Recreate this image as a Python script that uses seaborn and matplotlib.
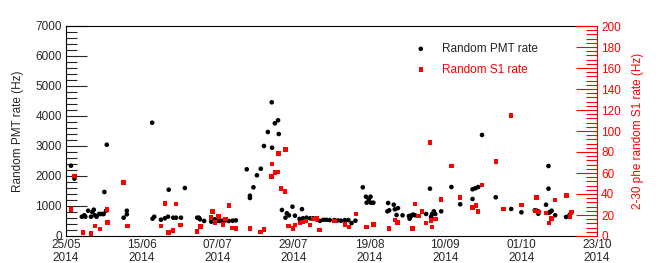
import numpy as np
import pandas as pd
import seaborn as sns
import matplotlib
matplotlib.use("Agg")
import matplotlib.pyplot as plt
import matplotlib.dates as mdates
from matplotlib.ticker import MultipleLocator, FixedLocator

# time axis starts on 25/05/2014 in the morning
start = pd.Timestamp("2014-05-25 07:00")
span_days = 151

# days since axis start and PMT rate (Hz)
pmt_day = [1.4, 2.4, 4.5, 5.2, 5.5, 6.3, 7.1, 7.5, 7.9, 8.2, 8.7, 9.4, 9.8, 10.4, 10.7,
           10.9, 11.4, 11.6, 16.4, 17.3, 17.3, 24.5, 24.6, 25.1, 27.0, 28.1, 29.0, 29.2,
           30.5, 31.3, 32.7, 33.8, 37.3, 37.8, 38.1, 39.3, 41.3, 41.7, 42.3, 43.0, 43.7,
           44.4, 45.3, 46.3, 47.4, 48.3, 51.4, 52.3, 52.3, 53.3, 54.3, 55.4, 56.3, 57.4,
           58.5, 58.6, 59.4, 60.3, 60.5, 61.4, 62.4, 62.8, 63.4, 64.4, 65.1, 66.4, 67.1,
           67.4, 68.4, 69.4, 70.3, 71.3, 72.2, 73.2, 74.1, 75.0, 76.3, 77.3, 78.2, 79.3,
           80.3, 81.2, 82.3, 84.4, 85.3, 86.1, 86.6, 85.5, 86.7, 87.4, 91.4, 91.6, 91.9,
           93.2, 93.5, 94.0, 94.4, 95.7, 97.5, 97.7, 98.0, 98.4, 98.8, 99.3, 102.4, 103.5,
           103.8, 104.1, 104.6, 105.0, 106.7, 109.6, 112.1, 115.6, 115.6, 116.4, 117.2,
           118.3, 122.2, 126.6, 129.5, 133.3, 133.9, 134.3, 134.5, 136.5, 137.2, 137.2,
           137.3, 137.7, 138.1, 139.1, 142.2, 143.2, 143.6]
pmt_rate = [2343, 1910, 643, 690, 643, 843, 643, 800, 877, 690, 643, 733, 733, 733, 733,
            1467, 843, 3043, 610, 843, 723, 3777, 577, 643, 543, 590, 643, 1543,
            610, 610, 610, 1600, 610, 610, 557, 500, 477, 523, 557, 510, 500,
            510, 520, 500, 510, 520, 2223, 1343, 1267, 1623, 2023, 2243, 3000, 3467,
            4457, 2943, 3757, 3857, 3400, 867, 610, 757, 690, 977, 677, 570, 895,
            590, 610, 590, 590, 550, 505, 540, 540, 530, 530, 520, 510, 530,
            530, 430, 510, 1623, 1310, 1220, 1310, 1110, 1110, 1110, 823, 1100, 857,
            1043, 890, 700, 930, 690, 667, 577, 643, 700, 710, 690, 733, 1577,
            643, 733, 823, 733, 823, 1633, 1057, 1557, 1233, 1590, 1633,
            3367, 1290, 900, 790, 857, 843, 743, 810, 1043, 2333, 1577,
            777, 800, 843, 690, 633, 700, 767]

# days since axis start and 2-30 phe S1 rate (Hz)
s1_day = [1.4, 2.4, 4.9, 7.1, 8.2, 9.6, 11.6, 11.8, 16.4, 17.5, 27.1, 28.1, 29.1, 30.4,
          31.3, 32.6, 37.3, 38.2, 41.3, 41.7, 42.3, 43.4, 44.6, 45.4, 46.4, 47.4, 48.3,
          52.4, 55.3, 56.3, 58.4, 58.6, 59.4, 60.3, 60.4, 61.2, 62.3, 62.4, 63.3, 64.5,
          65.2, 66.5, 67.4, 68.3, 69.4, 70.3, 71.3, 72.1, 76.3, 79.4, 80.4, 82.5, 85.4,
          87.4, 91.8, 93.6, 94.3, 98.5, 99.2, 100.2, 101.2, 102.4, 103.5, 103.8, 104.1,
          105.1, 106.7, 109.6, 112.1, 115.6, 116.6, 117.2, 118.3, 122.2, 124.4, 126.6,
          129.5, 133.3, 133.8, 134.4, 136.5, 137.4, 138.1, 139.1, 142.3, 143.3, 143.7]
s1_rate = [25.4, 57.1, 3.5, 2.2, 9.8, 6.7, 25.4, 12.7, 50.8, 9.5, 9.5, 31.1, 3.5, 5.4,
           30.2, 10.5, 4.1, 8.9, 17.5, 23.2, 12.7, 18.4, 11.1, 16.2, 28.9, 7.9, 7.3,
           7.0, 3.8, 6.3, 56.5, 68.6, 60.6, 61.0, 78.7, 45.4, 42.2, 82.5, 9.5, 7.3,
           10.2, 12.4, 13.3, 14.3, 10.2, 16.2, 16.5, 5.7, 14.3, 11.1, 8.6, 21.2, 8.6,
           10.8, 7.3, 15.2, 13.0, 7.3, 30.5, 19.0, 23.2, 12.4, 88.9, 14.6, 8.6,
           16.2, 34.9, 66.7, 36.5, 27.3, 29.2, 23.2, 48.6, 70.8, 26.0, 114.6,
           29.5, 23.8, 36.8, 22.9, 21.9, 12.4, 16.8, 34.0, 38.7, 18.4, 22.9]

pmt = pd.DataFrame({"date": start + pd.to_timedelta(pmt_day, unit="D"), "rate": pmt_rate})
s1 = pd.DataFrame({"date": start + pd.to_timedelta(s1_day, unit="D"), "rate": s1_rate})

sns.set_style("white")
plt.rcParams["font.family"] = ["Liberation Sans", "DejaVu Sans"]
plt.rcParams["font.size"] = 8

fig = plt.figure(figsize=(6.64, 2.63), dpi=100)
ax = fig.add_axes([66 / 664, 1 - 236 / 263, 531 / 664, 210 / 263])
ax2 = ax.twinx()

sns.scatterplot(data=pmt, x="date", y="rate", ax=ax, color="black", marker="o",
                s=11, edgecolor="none", label="Random PMT rate", legend=False)
sns.scatterplot(data=s1, x="date", y="rate", ax=ax2, color="red", marker="s",
                s=10, edgecolor="none", label="Random S1 rate", legend=False)

t0 = mdates.date2num(start)
ax.set_xlim(t0, t0 + span_days)
ax.set_ylim(0, 7000)
ax2.set_ylim(0, 200)

major = [t0 + i * span_days / 7 for i in range(8)]
minor = [t0 + i * span_days / 49 for i in range(50)]
ax.xaxis.set_major_locator(FixedLocator(major))
ax.xaxis.set_minor_locator(FixedLocator(minor))
ax.xaxis.set_major_formatter(mdates.DateFormatter("%d/%m\n%Y"))
ax.yaxis.set_major_locator(MultipleLocator(1000))
ax.yaxis.set_minor_locator(MultipleLocator(200))
ax2.yaxis.set_major_locator(MultipleLocator(20))
ax2.yaxis.set_minor_locator(MultipleLocator(4))

ax.tick_params(axis="x", which="major", direction="in", length=6, width=0.8, pad=2,
               labelsize=8.5)
ax.tick_params(axis="x", which="minor", direction="in", length=3, width=0.8)
ax.tick_params(axis="y", which="major", direction="in", length=15, width=0.8, pad=3,
               labelsize=8.5)
ax.tick_params(axis="y", which="minor", direction="in", length=8, width=0.8)
ax2.tick_params(axis="y", which="major", direction="in", length=15, width=0.8, pad=3,
                labelsize=8.5, colors="red")
ax2.tick_params(axis="y", which="minor", direction="in", length=8, width=0.8, colors="red")

for sp in ax.spines.values():
    sp.set_linewidth(0.8)
    sp.set_color("black")
ax.spines["right"].set_visible(False)
for name, sp in ax2.spines.items():
    sp.set_visible(name == "right")
ax2.spines["right"].set_color("red")
ax2.spines["right"].set_linewidth(0.8)

ax.set_xlabel("")
ax.set_ylabel("Random PMT rate (Hz)", fontsize=8.5, labelpad=8)
ax2.set_ylabel("2-30 phe random S1 rate (Hz)", fontsize=8.5, color="red", labelpad=8)

h1, l1 = ax.get_legend_handles_labels()
h2, l2 = ax2.get_legend_handles_labels()
leg = ax2.legend(h1 + h2, l1 + l2, loc="upper left", bbox_to_anchor=(0.637, 0.97),
                 frameon=False, fontsize=8.5, handlelength=1.0, handletextpad=1.3,
                 labelspacing=0.75, markerscale=1.0)
leg.get_texts()[1].set_color("red")

fig.canvas.draw()
for lab in ax.get_xticklabels():
    lab.set_linespacing(1.15)

fig.savefig("out.png", dpi=100)
